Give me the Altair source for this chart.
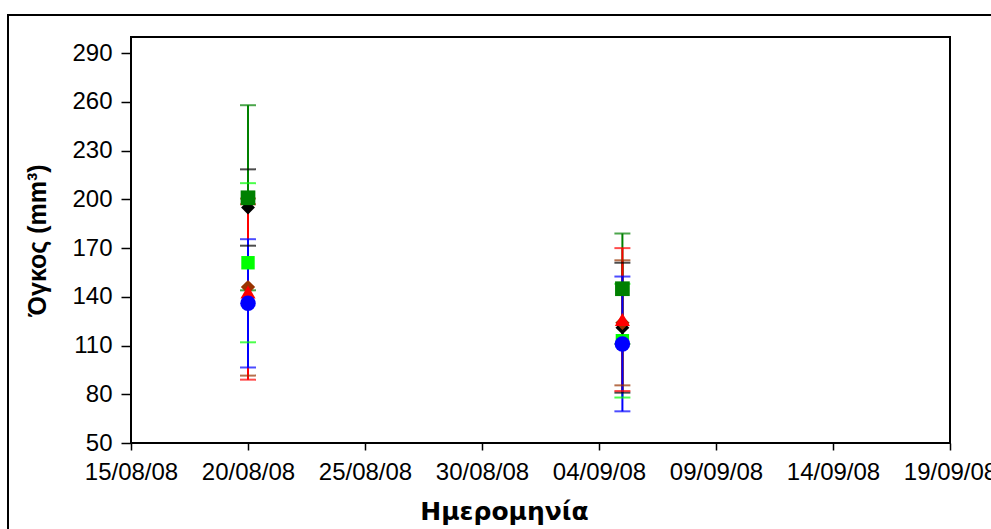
import altair as alt
import pandas as pd

# ---- data ----
dates = ["2008-08-20", "2008-09-05"]

# series listed bottom-to-top in drawing order
series_names = ["Σειρά 1", "Σειρά 2", "Σειρά 3", "Σειρά 4", "Σειρά 5", "Σειρά 6"]
series_colors = ["#00FF00", "#000000", "#993300", "#008000", "#FF0000", "#0000FF"]
series_shapes = ["square", "diamond", "diamond", "square", "triangle-up", "circle"]
series_sizes = [180, 240, 240, 180, 280, 190]

lime_mean = [161, 113]
lime_err = [49, 35]
black_mean = [195, 121]
black_err = [23.5, 40]
brown_mean = [146, 124]
brown_err = [54.5, 38.5]
dgreen_mean = [201, 145]
dgreen_err = [57, 34]
red_mean = [143, 126]
red_err = [54, 44]
blue_mean = [136, 111]
blue_err = [39.5, 41.5]

means = [lime_mean, black_mean, brown_mean, dgreen_mean, red_mean, blue_mean]
errs = [lime_err, black_err, brown_err, dgreen_err, red_err, blue_err]

y_ticks = [50, 80, 110, 140, 170, 200, 230, 260, 290]
x_tick_days = [(2008, 8, 15), (2008, 8, 20), (2008, 8, 25), (2008, 8, 30),
               (2008, 9, 4), (2008, 9, 9), (2008, 9, 14), (2008, 9, 19)]

rows = []
for i, name in enumerate(series_names):
    for d, m, e in zip(dates, means[i], errs[i]):
        rows.append({"series": name, "order": i, "date": d, "mean": m,
                     "lo": m - e, "hi": m + e})
df = pd.DataFrame(rows).sort_values("order").reset_index(drop=True)

def dt(y, m, d):
    return alt.DateTime(year=y, month=m, date=d, utc=True)

x_scale = alt.Scale(type="utc", domain=[dt(2008, 8, 15), dt(2008, 9, 19)], nice=False)
y_scale = alt.Scale(domain=[50, 300], nice=False, zero=False)
color_scale = alt.Scale(domain=series_names, range=series_colors)
shape_scale = alt.Scale(domain=series_names, range=series_shapes)
size_scale = alt.Scale(domain=series_names, range=series_sizes)

x_axis = alt.Axis(
    values=[dt(*t) for t in x_tick_days], format="%d/%m/%y", title="Ημερομηνία",
    grid=False, domain=False, tickColor="black", tickWidth=1.5, tickSize=7,
    labelFont="Liberation Sans", labelFontSize=24, labelColor="black", labelPadding=10,
    labelFlush=False, labelOverlap=False,
    titleFont="DejaVu Sans", titleFontSize=25, titleFontWeight="bold", titleColor="black",
    titleX=373, titleY=76, titleBaseline="alphabetic", titleAlign="center",
)
y_axis = alt.Axis(
    values=y_ticks, title="Όγκος (mm³)", grid=False, domain=False,
    tickColor="black", tickWidth=1.5, tickSize=10,
    labelFont="Liberation Sans", labelFontSize=24, labelColor="black", labelPadding=9,
    titleFont="Liberation Sans", titleFontSize=25, titleFontWeight="bold", titleColor="black",
    titleX=-86, titleY=203, titleAngle=270, titleBaseline="alphabetic", titleAlign="center",
)

base = alt.Chart(df)

rules = base.mark_rule(strokeWidth=2).encode(
    x=alt.X("date:T", scale=x_scale, axis=x_axis),
    y=alt.Y("lo:Q", scale=y_scale, axis=y_axis),
    y2="hi:Q",
    color=alt.Color("series:N", scale=color_scale, legend=None),
    order="order:Q",
)
caps_lo = base.mark_tick(orient="horizontal", size=16, thickness=2).encode(
    x="date:T", y="lo:Q",
    color=alt.Color("series:N", scale=color_scale, legend=None),
)
caps_hi = base.mark_tick(orient="horizontal", size=16, thickness=2).encode(
    x="date:T", y="hi:Q",
    color=alt.Color("series:N", scale=color_scale, legend=None),
)
points = base.mark_point(filled=True, opacity=1).encode(
    x="date:T", y="mean:Q",
    color=alt.Color("series:N", scale=color_scale, legend=None),
    shape=alt.Shape("series:N", scale=shape_scale, legend=None),
    size=alt.Size("series:N", scale=size_scale, legend=None),
    order="order:Q",
)

frame = alt.Chart(alt.Data(values=[{"k": 1}])).mark_rect(
    filled=False, stroke="black", strokeWidth=2
).encode(
    x=alt.value(-123), x2=alt.value(880), y=alt.value(-22), y2=alt.value(520)
)

chart = alt.layer(frame, rules, caps_lo, caps_hi, points).properties(
    width=819, height=406,
    padding={"left": 131, "top": 37, "right": 41, "bottom": 86},
    autosize=alt.AutoSizeParams(type="none"),
    background="white",
).configure_view(stroke="black", strokeWidth=2)

chart.save("out.html", embed_options={"renderer": "svg", "actions": False})
